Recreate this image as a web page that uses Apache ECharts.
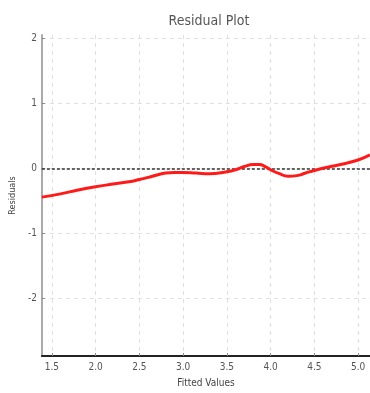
<!DOCTYPE html>
<html><head><meta charset="utf-8">
<script src="https://cdn.jsdelivr.net/npm/echarts@6/dist/echarts.min.js"></script>
<style>html,body{margin:0;padding:0;background:#fff}#c{width:370px;height:393px}</style>
</head><body><div id="c"></div>
<script>
var fittedX = [1.386, 1.6, 1.8, 2.0, 2.2, 2.4, 2.5, 2.65, 2.8, 2.9, 3.0, 3.15, 3.3, 3.5, 3.6, 3.7, 3.8, 3.87, 3.95, 4.0, 4.1, 4.2, 4.3, 4.4, 4.5, 4.65, 4.8, 5.0, 5.136];
var residualY = [-0.44, -0.39, -0.33, -0.28, -0.24, -0.2, -0.17, -0.12, -0.07, -0.06, -0.06, -0.07, -0.08, -0.05, -0.02, 0.03, 0.06, 0.06, 0.02, -0.02, -0.08, -0.12, -0.11, -0.07, -0.03, 0.02, 0.06, 0.13, 0.21];
var xTicks = [1.5, 2.0, 2.5, 3.0, 3.5, 4.0, 4.5, 5.0];
var yTicks = [-2, -1, 0, 1, 2];

var font = "'DejaVu Sans Condensed','Liberation Sans Narrow','DejaVu Sans',sans-serif";
var pts = fittedX.map(function (x, i) { return [x, residualY[i]]; });
var chart = echarts.init(document.getElementById('c'));
chart.setOption({
  animation: false,
  title: { text: 'Residual Plot', left: 204, top: 9, textAlign: 'center',
    textStyle: { fontFamily: font, fontSize: 14, fontWeight: 'normal', color: '#555' } },
  grid: { left: 38, right: 0, top: 35, bottom: 35, containLabel: false },
  xAxis: {
    type: 'value', min: 1.386, max: 5.136,
    name: 'Fitted Values', nameLocation: 'middle', nameGap: 22,
    nameTextStyle: { fontFamily: font, fontSize: 10, color: '#444' },
    axisLine: { onZero: false, lineStyle: { color: '#222', width: 2 } },
    axisTick: { customValues: xTicks, length: 3, inside: true, lineStyle: { color: '#888' } },
    axisLabel: { customValues: xTicks, fontFamily: font, fontSize: 10, color: '#555', margin: 6,
      formatter: function (v) { return v.toFixed(1); } },
    splitLine: { show: true, lineStyle: { color: '#e0e0e0', type: [4, 4], width: 1 } }
  },
  yAxis: {
    type: 'value', min: -2.88, max: 2.05,
    name: 'Residuals', nameLocation: 'middle', nameGap: 20, nameRotate: 90,
    nameTextStyle: { fontFamily: font, fontSize: 9, color: '#444' },
    axisLine: { onZero: false, lineStyle: { color: '#aaa', width: 2 } },
    axisTick: { customValues: yTicks, length: 3, inside: true, lineStyle: { color: '#888' } },
    axisLabel: { customValues: yTicks, fontFamily: font, fontSize: 10, color: '#555', margin: 5 },
    splitLine: { show: true, lineStyle: { color: '#e0e0e0', type: [4, 4], width: 1 } }
  },
  series: [{
    type: 'line', data: pts, smooth: 0.5, showSymbol: false,
    lineStyle: { color: '#ff1a1a', width: 3 },
    z: 3,
    markLine: {
      silent: true, symbol: 'none', label: { show: false },
      lineStyle: { color: '#333', type: [3, 2], width: 1.5 },
      data: [{ yAxis: 0 }],
      z: 2
    }
  }]
});
</script></body></html>
